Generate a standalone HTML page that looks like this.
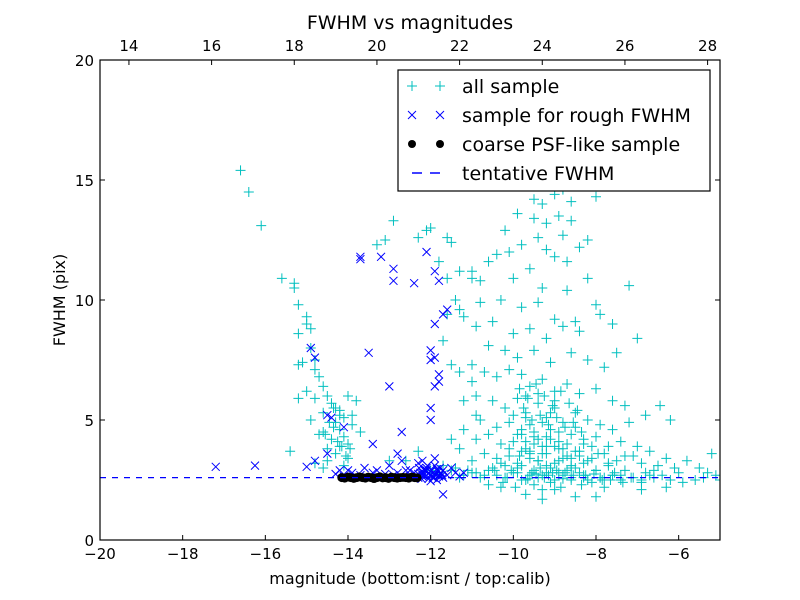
<!DOCTYPE html>
<html><head><meta charset="utf-8"><style>
html,body{margin:0;padding:0;background:#fff;}
svg{display:block;font-family:"DejaVu Sans","Liberation Sans",sans-serif;}
</style></head><body>
<svg id="chart" width="800" height="600" viewBox="0 0 800 600">
<rect x="0" y="0" width="800" height="600" fill="#fff"/>
<text x="410" y="29" font-size="19" text-anchor="middle">FWHM vs magnitudes</text>
<g id="marks"></g>
<rect x="100" y="60" width="620" height="480" fill="none" stroke="#000" stroke-width="1.2"/>
<g id="axes"></g>
<text x="410" y="584" font-size="16" text-anchor="middle">magnitude (bottom:isnt / top:calib)</text>
<text transform="translate(65,300) rotate(-90)" font-size="16" text-anchor="middle">FWHM (pix)</text>
<g>
<rect x="398" y="70" width="312" height="121" fill="#fff" stroke="#000" stroke-width="1.2"/>
<g>
<path d="M407 86h10M412 81v10M435 86h10M440 81v10" stroke="#00bfbf" stroke-width="1"/>
<text x="462" y="93" font-size="19">all sample</text></g>
<g>
<path d="M408 111l8 8M416 111l-8 8M436 111l8 8M444 111l-8 8" stroke="#0000ff" stroke-width="1"/>
<text x="462" y="122" font-size="19">sample for rough FWHM</text></g>
<g>
<circle cx="412" cy="144" r="4" fill="#000"/><circle cx="440" cy="144" r="4" fill="#000"/>
<text x="462" y="151" font-size="19">coarse PSF-like sample</text></g>
<g>
<path d="M412 173h10M430 173h10" stroke="#0000ff" stroke-width="1.5"/>
<text x="462" y="180" font-size="19">tentative FWHM</text></g>
</g>
</svg>
<script>
const xTicks = [-20,-18,-16,-14,-12,-10,-8,-6];
const yTicks = [0,5,10,15,20];
const topTicks = [14,16,18,20,22,24,26,28];
const topOffset = 33.3;
const tentativeFwhm = 2.6;
const allX = [-16.6,-16.4,-16.1,-15.6,-15.3,-15.3,-15.2,-15.2,-15.0,-15.0,-14.9,-14.9,-15.1,-15.2,-14.8,-14.8,-14.7,-14.6,-14.5,-14.4,-14.3,-14.2,-14.1,-14.6,-14.8,-14.3,-14.2,-14.1,-14.6,-14.4,-14.0,-14.5,-14.3,-14.0,-14.8,-14.6,-15.4,-15.2,-15.0,-14.9,-14.7,-14.2,-14.1,-13.8,-13.9,-13.7,-13.9,-14.0,-13.3,-13.1,-12.9,-12.3,-12.1,-12.0,-11.6,-11.5,-11.8,-11.6,-11.3,-11.0,-11.4,-11.2,-10.8,-11.6,-11.7,-11.5,-11.3,-11.0,-11.2,-10.9,-11.5,-11.3,-11.0,-12.3,-12.6,-13.0,
-10.2,-9.7,-9.5,-9.3,-9.0,-8.8,-8.6,-8.3,-8.0,-9.9,-9.5,-9.2,-8.9,-8.6,-8.8,-9.4,-9.8,-10.1,-10.4,-9.2,-8.4,-8.2,-9.0,-8.7,-9.6,-10.0,-10.6,-11.0,-10.8,-9.3,-8.7,-8.2,-7.2,-10.3,-9.8,-9.4,-9.0,-8.5,-8.0,-7.9,-10.5,-10.9,-11.3,-10.0,-9.6,-9.2,-8.8,-8.4,-7.6,-7.0,-10.6,-10.2,-9.9,-9.5,-9.1,-8.6,-8.2,-7.8,-7.5,
-11.0,-10.7,-10.4,-10.1,-9.8,-9.6,-9.3,-9.0,-8.7,-8.4,-8.0,-7.6,-7.3,-10.9,-10.5,-10.2,-9.9,-9.7,-9.4,-9.2,-9.0,-8.8,-8.5,-8.2,-7.9,-7.6,-7.2,-6.8,-10.8,-10.4,-10.1,-9.8,-9.6,-9.4,-9.1,-8.9,-8.6,-8.3,-8.0,-7.7,-7.4,-7.0,-6.7,-6.3,-11.2,-10.9,-10.6,-10.3,-10.0,-9.7,-9.5,-9.3,-9.0,-8.7,-8.4,-8.1,-7.8,-7.5,-7.1,-6.9,-6.5,-6.1,-5.8,-5.5,-5.2,-10.7,-10.4,-10.1,-9.9,-9.6,-9.2,-8.9,-8.6,-8.3,-8.0,-7.7,-7.3,-6.8,-6.4,-6.0,-5.6,-5.1,
-11.0,-10.8,-10.6,-10.4,-10.2,-10.0,-9.8,-9.6,-9.4,-9.2,-9.0,-8.8,-8.6,-8.4,-8.2,-7.9,-7.6,-7.4,-7.1,-6.9,-6.6,-6.2,-5.9,-5.4,-10.3,-9.7,-9.0,-8.5,-7.8,-6.9,-6.3,-9.3,-8.0,
-9.7,-9.5,-9.3,-9.1,-8.9,-9.6,-9.4,-9.2,-8.8,-8.5,-9.8,-10.0,-9.4,-9.7,-9.0,-9.5,-9.1,-8.7,-9.3,-8.9,-9.9,-10.2,-8.3,-8.6,-9.8,-9.2,
-11.8,-11.5,-11.2,-10.9,-11.7,-11.4,-12.0,-11.9,-11.1,-10.5,-10.7,-11.3,-5.0,-5.3,-6.6,-7.3,
-9.85,-9.65,-9.45,-9.25,-9.05,-8.85,-8.65,-8.45,-9.75,-9.55,-9.35,-9.15,-8.95,-8.75,-8.55,-8.35,-9.9,-9.7,-9.5,-9.3,-9.1,-8.9,-8.7,-8.5,-8.3,-8.1,-10.1,-9.85,-9.6,-9.4,-9.2,-9.0,-8.8,-8.6,-8.4,-8.2,-7.95,-7.7,-10.3,-10.05,-9.8,-9.55,-9.35,-9.15,-8.95,-8.75,-8.5,-8.25,-8.0,-7.8,-7.55,-10.45,-10.15,-9.9,-9.65,-9.45,-9.25,-9.05,-8.8,-8.55,-8.3,-8.05,-7.85,-7.6,-7.35,-10.6,-10.25,-9.95,-9.7,-9.5,-9.3,-9.1,-8.85,-8.6,-8.35,-8.1,-7.9,-7.65,-7.4,-7.15,-6.9,-6.7,-6.45,-6.2,
-14.35,-14.25,-14.15,-14.45,-14.55,-14.05,-13.95,-14.35,-14.2,-14.5,-14.1,-14.4];
const allY = [15.4,14.5,13.1,10.9,10.7,10.5,9.8,8.6,9.3,9.0,8.8,8.0,7.4,7.3,7.5,7.1,6.8,6.4,6.0,5.7,5.5,5.2,5.1,5.3,5.9,4.9,4.6,4.3,4.5,4.2,4.0,3.8,3.6,3.4,3.2,3.0,3.7,5.9,6.2,5.0,4.4,3.9,3.1,5.8,5.2,4.5,4.8,6.0,12.3,12.5,13.3,12.6,12.9,13.0,12.6,12.4,11.6,10.9,11.2,10.9,10.0,9.3,9.9,9.4,8.3,7.3,7.0,6.6,5.8,5.2,4.2,3.8,3.3,3.7,3.3,3.3,
12.9,14.9,14.2,14.0,14.4,14.6,14.1,14.8,14.3,13.6,13.4,13.2,13.5,13.3,12.7,12.6,12.3,12.0,11.9,12.1,12.2,12.5,11.8,11.6,11.3,10.9,11.6,11.2,10.8,10.5,10.4,10.9,10.6,10.0,9.7,9.9,9.2,9.1,9.8,9.4,9.1,8.9,9.6,8.6,8.8,8.4,8.9,8.7,9.0,8.4,8.1,7.9,7.6,7.9,7.4,7.8,7.5,7.2,7.8,
7.3,7.0,6.8,7.1,6.9,6.4,6.7,6.2,6.5,6.1,6.3,5.8,5.6,6.0,5.8,5.5,5.9,5.3,5.7,5.1,5.5,4.9,5.3,5.0,4.8,4.6,4.9,5.2,5.0,4.7,4.9,4.4,4.8,4.2,4.6,4.1,4.4,4.0,4.3,3.9,4.1,3.9,3.7,3.4,4.6,4.2,4.4,4.0,4.1,3.8,4.0,3.6,3.9,3.5,3.7,3.4,3.6,3.3,3.5,3.2,3.1,3.0,3.3,3.0,3.6,3.6,3.4,3.5,3.2,3.4,3.1,3.3,3.0,3.2,2.9,3.1,2.9,2.8,2.7,2.8,2.5,2.7,
2.8,2.6,2.9,2.7,2.6,2.8,2.5,2.7,2.6,2.8,2.5,2.7,2.6,2.8,2.5,2.6,2.7,2.5,2.6,2.4,2.6,2.5,2.4,2.6,2.2,1.9,2.1,1.8,2.2,2.1,2.2,1.7,1.8,
5.1,4.5,4.9,5.3,4.5,3.6,3.3,3.9,3.8,4.7,4.6,5.2,6.1,6.0,5.8,2.9,3.0,2.9,2.7,2.8,3.0,3.1,2.7,3.4,3.7,4.3,
2.8,2.9,2.7,2.8,3.1,3.0,2.9,2.7,2.9,3.0,2.7,2.6,2.5,2.8,2.9,3.5,
6.3,5.9,6.5,6.0,5.6,6.2,5.7,5.4,5.5,5.0,5.2,4.8,5.1,4.7,4.9,4.5,4.4,4.1,4.3,3.9,4.2,3.8,4.0,3.7,4.2,3.9,3.8,3.5,3.7,3.3,3.6,3.2,3.4,3.1,3.5,3.3,3.6,3.2,3.2,2.9,3.1,2.8,3.0,2.7,2.9,2.8,3.0,2.7,2.9,2.6,2.8,2.9,2.6,2.8,2.55,2.75,2.6,2.8,2.55,2.7,2.6,2.75,2.5,2.7,2.4,2.3,2.4,2.2,2.5,2.3,2.1,2.4,2.2,2.5,2.3,2.4,2.6,2.5,2.7,2.6,2.5,2.7,
5.6,5.0,4.7,4.1,3.9,4.9,4.4,3.5,3.8,5.5,5.4,3.3];
const roughX = [-17.2,-16.25,-15.0,-14.9,-14.8,-14.5,-14.4,-14.1,-13.7,-13.7,-13.2,-12.9,-12.9,-12.4,-12.1,-11.9,-11.8,-11.6,-11.7,-11.9,-12.0,-12.0,-11.9,-11.8,-11.8,-11.9,-13.5,-13.4,-13.0,-12.7,-12.0,-12.0,-11.7,-14.8,-14.5,-14.2,-13.9,-13.6,-13.3,-13.0,-12.7,-12.8,-12.6,-12.3,-12.1,-11.9,-11.7,-11.5,-12.4,-12.0,-11.6,-13.8,-14.1,-12.9,-12.5,-11.3,-11.2,-14.3,-14.0,-13.7,-13.4,-13.1,-12.8,-12.5,-12.2,-11.8,-11.4,-12.2,-11.9,-12.1,
-12.3,-12.25,-12.2,-12.15,-12.1,-12.05,-12.0,-11.95,-11.9,-11.85,-11.8,-11.75,-11.7,-12.28,-12.18,-12.08,-11.98,-11.88,-11.78,-12.22,-12.12,-12.02,-11.92,-11.82,-11.72,-12.3,-12.0,-11.85];
const roughY = [3.05,3.1,3.05,8.0,7.6,5.2,5.1,4.7,11.7,11.8,11.8,11.3,10.8,10.7,12.0,11.2,10.8,9.6,9.4,9.0,7.9,7.5,7.6,6.9,6.6,6.4,7.8,4.0,6.4,4.5,5.5,5.0,1.9,3.3,3.6,2.9,2.8,3.0,2.9,3.1,3.3,3.6,2.9,3.2,3.0,3.1,2.9,3.0,2.8,2.7,2.7,2.65,2.65,2.7,2.65,2.65,2.8,2.75,2.9,2.7,2.8,2.75,2.8,2.9,2.8,2.7,2.8,3.3,3.4,2.9,
2.6,2.8,2.65,2.9,2.7,2.55,2.85,2.6,2.75,2.95,2.65,2.8,2.6,3.0,2.7,3.1,2.9,2.7,3.0,2.55,2.9,2.7,2.6,2.85,2.7,2.75,2.45,2.5];
const psfX = [-14.15,-14.08,-14.0,-13.93,-13.86,-13.79,-13.72,-13.65,-13.58,-13.51,-13.44,-13.37,-13.3,-13.23,-13.16,-13.09,-13.02,-12.95,-12.88,-12.81,-12.74,-12.67,-12.6,-12.53,-12.46,-12.39,-12.33];
const psfY = [2.6,2.58,2.62,2.6,2.57,2.6,2.63,2.6,2.58,2.62,2.6,2.56,2.6,2.63,2.59,2.6,2.57,2.62,2.6,2.58,2.6,2.61,2.6,2.58,2.62,2.6,2.59];

const X0=100,X1=720,Y0=540,Y1=60;
function sx(v){return X0+(v+20)/15*(X1-X0);}
function sy(v){return Y0-v/20*(Y0-Y1);}
const NS='http://www.w3.org/2000/svg';
const marks=document.getElementById('marks');
const axes=document.getElementById('axes');
function mk(tag,attrs,parent){const e=document.createElementNS(NS,tag);for(const k in attrs)e.setAttribute(k,attrs[k]);parent.appendChild(e);return e;}

const clip=mk('clipPath',{id:'pc'},marks);mk('rect',{x:X0,y:Y1,width:X1-X0,height:Y0-Y1},clip);
const g=mk('g',{'clip-path':'url(#pc)'},marks);

const gAll=mk('g',{stroke:'#00bfbf','stroke-width':'1',fill:'none'},g);


for(let i=0;i<allX.length;i++){const x=sx(allX[i]),y=sy(allY[i]);
 const p=mk('path',{d:`M${x-5} ${y}h10M${x} ${y-5}v10`},gAll);
 
 }

const gR=mk('g',{stroke:'#0000ff','stroke-width':'1',fill:'none'},g);


for(let i=0;i<roughX.length;i++){const x=sx(roughX[i]),y=sy(roughY[i]);
 const p=mk('path',{d:`M${x-4} ${y-4}l8 8M${x+4} ${y-4}l-8 8`},gR);
 
 }

const gP=mk('g',{fill:'#000'},g);


for(let i=0;i<psfX.length;i++){
 const c=mk('circle',{cx:sx(psfX[i]),cy:sy(psfY[i]),r:4.5},gP);
 
 }

const tl=mk('line',{x1:X0,x2:X1,y1:sy(tentativeFwhm),y2:sy(tentativeFwhm),stroke:'#0000ff','stroke-width':'1.3','stroke-dasharray':'6,6'},g);



xTicks.forEach(v=>{const x=sx(v);
 mk('line',{x1:x,x2:x,y1:Y0,y2:Y0-5,stroke:'#000'},axes);
 const t=mk('text',{x:x,y:559,'font-size':'15','text-anchor':'middle'},axes);t.textContent=(v<0?'\u2212'+(-v):v);
 
 });
topTicks.forEach(v=>{const x=sx(v-topOffset);
 mk('line',{x1:x,x2:x,y1:Y1,y2:Y1+5,stroke:'#000'},axes);
 const t=mk('text',{x:x,y:51,'font-size':'15','text-anchor':'middle'},axes);t.textContent=v;
 
 });
yTicks.forEach(v=>{const y=sy(v);
 mk('line',{x1:X0,x2:X0+5,y1:y,y2:y,stroke:'#000'},axes);
 mk('line',{x1:X1,x2:X1-5,y1:y,y2:y,stroke:'#000'},axes);
 const t=mk('text',{x:94,y:y+6,'font-size':'15','text-anchor':'end'},axes);t.textContent=v;
 
 });
</script>
</body></html>
